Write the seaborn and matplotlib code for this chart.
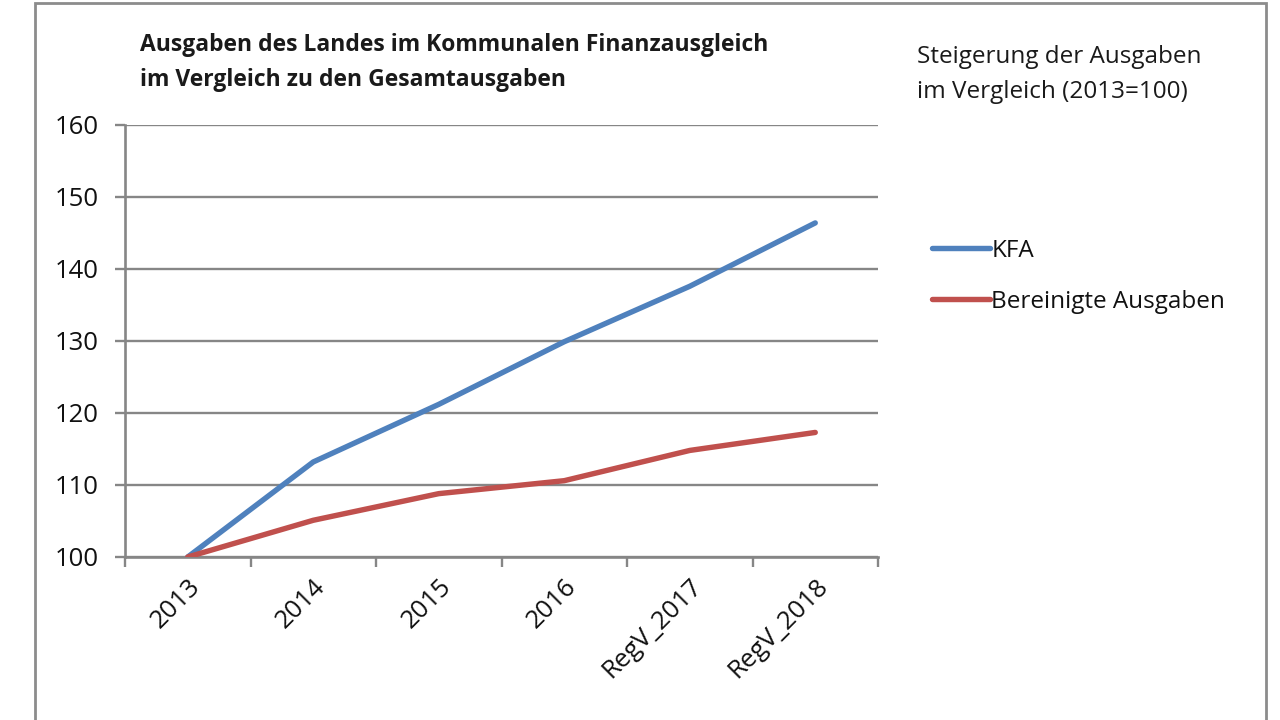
import matplotlib
matplotlib.use("Agg")
import matplotlib.pyplot as plt
import seaborn as sns
import pandas as pd
import numpy as np
from matplotlib.patches import Rectangle
from matplotlib.lines import Line2D

categories = ["2013", "2014", "2015", "2016", "RegV_2017", "RegV_2018"]
kfa = [100.0, 113.2, 121.2, 129.9, 137.6, 146.4]
bereinigt = [100.0, 105.1, 108.8, 110.6, 114.8, 117.3]
series_names = ["KFA", "Bereinigte Ausgaben"]
colors = ["#4F81BD", "#C0504D"]

sns.set_theme(style="white")
plt.rcParams['font.family'] = ['Open Sans', 'DejaVu Sans']

df = pd.DataFrame({
    "Jahr": categories * 2,
    "Wert": kfa + bereinigt,
    "Reihe": [series_names[0]] * len(categories) + [series_names[1]] * len(categories),
})

fig = plt.figure(figsize=(12.8, 7.2), dpi=100)
ax = fig.add_axes([125/1280, 1 - 557/720, (878-125)/1280, (557-125)/720])

sns.lineplot(data=df, x="Jahr", y="Wert", hue="Reihe", palette=colors,
             linewidth=3.9, ax=ax, sort=False, legend=False, zorder=3)

ax.set_xlim(-0.5, len(categories) - 0.5)
ax.set_ylim(100, 160)
ax.set_yticks(np.arange(100, 161, 10))
ax.yaxis.grid(True, color="#868686", linewidth=1.7)
ax.xaxis.grid(False)
ax.set_xlabel("")
ax.set_ylabel("")

ax.set_xticks(range(len(categories)))
ax.set_xticklabels(categories, rotation=45, ha="right", rotation_mode="anchor", fontsize=18.5)
ax.tick_params(axis="x", which="major", length=0, pad=12)
ax.set_xticks(np.arange(-0.5, len(categories)), minor=True)
ax.tick_params(axis="x", which="minor", length=7, width=1.7, color="#868686", direction="out", bottom=True)
ax.tick_params(axis="y", length=7, width=1.7, color="#868686", direction="out", labelsize=18.5, pad=12, left=True)
for lbl in ax.get_yticklabels():
    lbl.set_color("#111111")
for lbl in ax.get_xticklabels():
    lbl.set_color("#111111")

for s in ["top", "right"]:
    ax.spines[s].set_visible(False)
for s in ["left", "bottom"]:
    ax.spines[s].set_color("#868686")
    ax.spines[s].set_linewidth(1.9)

title_lines = ["Ausgaben des Landes im Kommunalen Finanzausgleich", "im Vergleich zu den Gesamtausgaben"]
for t, yc in zip(title_lines, [45, 80]):
    fig.text(140/1280, 1 - yc/720, t, fontsize=16.5, fontweight="bold", va="center", ha="left", color="#1a1a1a")
side_lines = ["Steigerung der Ausgaben", "im Vergleich (2013=100)"]
for t, yc in zip(side_lines, [57, 92]):
    fig.text(917/1280, 1 - yc/720, t, fontsize=17.5, va="center", ha="left", color="#1a1a1a")

handles = [Line2D([0], [0], color=c, linewidth=3.9) for c in colors]
fig.legend(handles, series_names, loc="upper left", bbox_to_anchor=(910/1280, 1 - 217/720),
           frameon=False, fontsize=17.5, handlelength=2.4, handletextpad=0.05,
           labelspacing=1.1, labelcolor="#111111")

fig.patches.append(Rectangle((35/1280, -0.05), (1266-35)/1280, 1.05 - 3/720,
                             transform=fig.transFigure, fill=False,
                             edgecolor="#8C8C8C", linewidth=2))

fig.savefig("out.png", dpi=100)
